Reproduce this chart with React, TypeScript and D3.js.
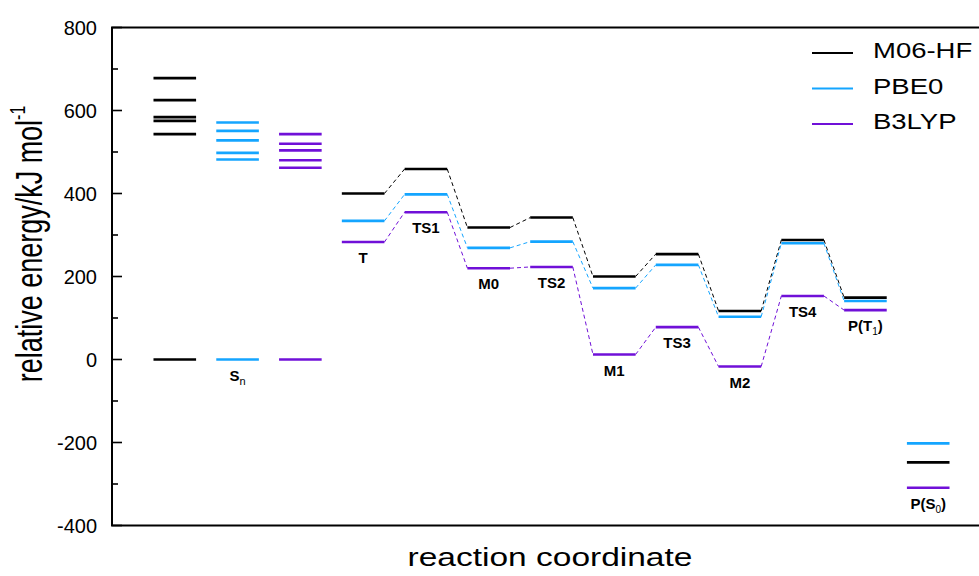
import * as d3 from 'd3';

// excited singlet manifold (S_n), one column per method
const snM06 = [678, 625, 584, 575, 543, 0];
const snPBE0 = [571, 551, 528, 498, 482, 0];
const snB3LYP = [543, 520, 504, 480, 462, 0];

// stationary points along the path
const states = ['T', 'TS1', 'M0', 'TS2', 'M1', 'TS3', 'M2', 'TS4', 'P(T1)', 'P(S0)'];
const stateLabels: [string, string, string][] = [
  ['T', '', ''], ['TS1', '', ''], ['M0', '', ''], ['TS2', '', ''], ['M1', '', ''],
  ['TS3', '', ''], ['M2', '', ''], ['TS4', '', ''], ['P(T', '1', ')'], ['P(S', '0', ')'],
];
const m06hf = [400, 459, 318, 342, 200, 254, 117, 288, 149, -248];
const pbe0 = [334, 398, 269, 284, 172, 228, 103, 280, 141, -202];
const b3lyp = [283, 355, 220, 223, 12, 78, -17, 153, 119, -309];

const yTicks = [800, 600, 400, 200, 0, -200, -400];

const series = [
  {name: 'M06-HF', color: '#000000', sn: snM06, values: m06hf, col: 0},
  {name: 'PBE0', color: '#14a5ff', sn: snPBE0, values: pbe0, col: 1},
  {name: 'B3LYP', color: '#7010d8', sn: snB3LYP, values: b3lyp, col: 2},
];

const width = 979;
const height = 576;
const left = 112;
const top = 27.5;
const bottom = 525.5;

export default function App() {
  const x = d3.scaleLinear().domain([-1, 13]).range([left, 991]);
  const y = d3.scaleLinear().domain([-400, 800]).range([bottom, top]);
  const half = 21.3;
  const stateX = (i: number) => x(i + 3);
  const font = 'Arial, "Liberation Sans", sans-serif';
  const minor = d3.range(-300, 800, 200);

  return (
    <svg width={width} height={height} style={{position: 'absolute', left: 0, top: 0}} fontFamily={font}>
      {/* frame */}
      <rect x={left} y={top} width={991 - left} height={bottom - top} fill="none" stroke="#000" strokeWidth={2} />
      {yTicks.map(t => (
        <g key={t}>
          <line x1={left} x2={left + 10} y1={y(t)} y2={y(t)} stroke="#000" strokeWidth={1.6} />
          <text x={97} y={y(t)} dy="0.36em" textAnchor="end" fontSize={20}>{t}</text>
        </g>
      ))}
      {minor.map(t => (
        <line key={t} x1={left} x2={left + 6} y1={y(t)} y2={y(t)} stroke="#000" strokeWidth={1.6} />
      ))}

      {/* connectors */}
      {series.map(s => s.values.slice(0, 8).map((v, i) => (
        <line key={s.name + i} x1={stateX(i) + half} y1={y(v)} x2={stateX(i + 1) - half} y2={y(s.values[i + 1])}
          stroke={s.color} strokeWidth={1} strokeDasharray="4,3" />
      )))}

      {/* levels */}
      {series.map(s => (
        <g key={s.name}>
          {s.sn.map((v, i) => (
            <line key={'sn' + i} x1={x(s.col) - half} x2={x(s.col) + half} y1={y(v)} y2={y(v)} stroke={s.color} strokeWidth={2.6} />
          ))}
          {s.values.map((v, i) => (
            <line key={states[i]} x1={stateX(i) - half} x2={stateX(i) + half} y1={y(v)} y2={y(v)} stroke={s.color} strokeWidth={2.6} />
          ))}
        </g>
      ))}

      {/* state labels */}
      <text x={x(1)} y={y(0) + 21} textAnchor="middle" fontSize={15} fontWeight="bold">
        S<tspan fontSize={11} fontWeight="normal" dy={4}>n</tspan>
      </text>
      {stateLabels.map((l, i) => {
        const low = Math.min(m06hf[i], pbe0[i], b3lyp[i]);
        return (
          <text key={states[i]} x={stateX(i)} y={y(low) + 21} textAnchor="middle" fontSize={15} fontWeight="bold">
            {l[0]}
            {l[1] && <tspan fontSize={10} fontWeight="normal" dy={4}>{l[1]}</tspan>}
            {l[2] && <tspan dy={-4}>{l[2]}</tspan>}
          </text>
        );
      })}

      {/* legend */}
      {series.map((s, i) => (
        <g key={s.name} transform={`translate(0, ${53 + i * 35.5})`}>
          <line x1={812} x2={853} y1={0} y2={0} stroke={s.color} strokeWidth={2} />
          <text x={873} y={0} dy={5} fontSize={22} transform="translate(873,0) scale(1.25,1) translate(-873,0)">{s.name}</text>
        </g>
      ))}

      {/* axis titles */}
      <text transform="translate(550,566) scale(1.34,1)" textAnchor="middle" fontSize={25}>reaction coordinate</text>
      <text transform="translate(42,244) rotate(-90) scale(1,1.4)" textAnchor="middle" fontSize={27}>
        relative energy/kJ mol<tspan fontSize={16} dy={-12}>-1</tspan>
      </text>
    </svg>
  );
}
